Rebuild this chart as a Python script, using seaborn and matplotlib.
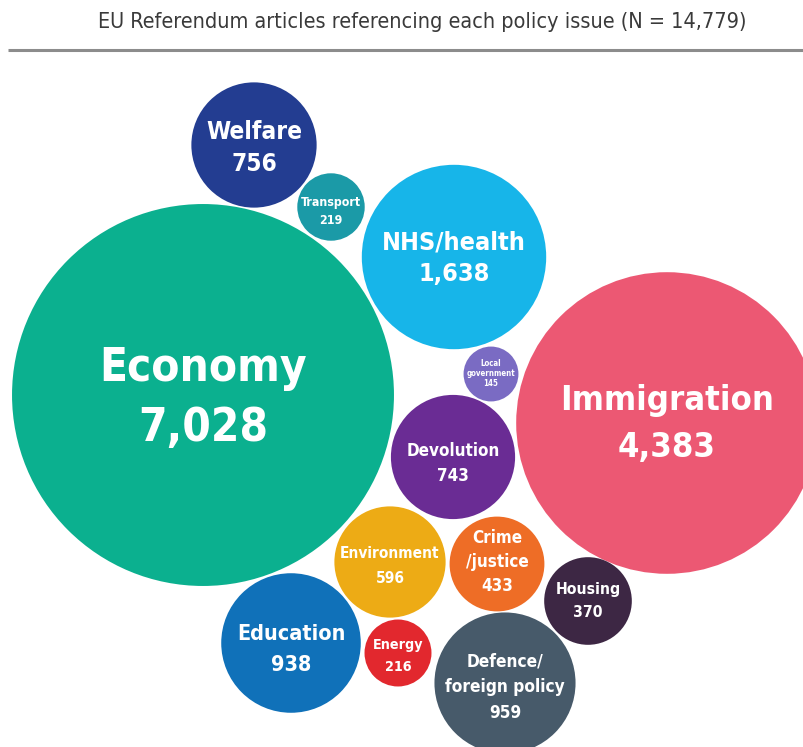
import matplotlib
matplotlib.use("Agg")
import matplotlib.pyplot as plt
from matplotlib.patches import Circle
from matplotlib import font_manager as fm
from matplotlib.textpath import TextPath
import seaborn as sns

# Policy issues and number of EU referendum articles mentioning each
topics = ["Economy", "Immigration", "NHS/health", "Welfare", "Transport",
          "Local government", "Devolution", "Environment", "Crime/justice",
          "Housing", "Education", "Energy", "Defence/foreign policy"]
articles = [7028, 4383, 1638, 756, 219, 145, 743, 596, 433, 370, 938, 216, 959]
label_lines = [["Economy"], ["Immigration"], ["NHS/health"], ["Welfare"],
               ["Transport"], ["Local", "government"], ["Devolution"],
               ["Environment"], ["Crime", "/justice"], ["Housing"],
               ["Education"], ["Energy"], ["Defence/", "foreign policy"]]
title = "EU Referendum articles referencing each policy issue (N = 14,779)"

# Bubble styling and layout (canvas pixel coordinates, y downwards)
palette = sns.color_palette([
    "#0BB08F", "#EC5873", "#17B5E9", "#233D91", "#1B9AA7", "#7A6BC3",
    "#6A2C94", "#EDAB15", "#EE6D26", "#3D2744", "#1071B9", "#E2282E",
    "#475A6A"])
centers = [(203, 395), (667, 423), (454, 257), (254, 145), (331, 207),
           (491, 374), (453, 457), (390, 562), (497, 564), (588, 601),
           (291, 643), (398, 653), (505, 683)]
label_width = [203, 208, 140, 94, 60, 48, 91, 98, 62, 63, 105, 49, 120]
line_gap = [60, 47, 32, 32, 18, 10, 25, 25, 24, 23, 31, 22, 26]
text_dy = [0, -2, -1, 1, 4, -1, 5, 3, -3, -1, 5, 2, 3]
radius_scale = 2.278  # pixels per sqrt(article)


def narrow_font(bold):
    """Find an installed narrow/condensed face, else plain DejaVu Sans."""
    best = None
    for f in fm.fontManager.ttflist:
        st = f.stretch
        narrow = ("Narrow" in f.name or "Condensed" in f.name or "Cond" in f.fname
                  or (isinstance(st, str) and "condensed" in st)
                  or (isinstance(st, int) and st < 500))
        if not narrow:
            continue
        w = f.weight if isinstance(f.weight, int) else (
            700 if "bold" in str(f.weight).lower() else 400)
        if "Italic" in f.fname or f.style != "normal":
            continue
        score = abs(w - (700 if bold else 400))
        if best is None or score < best[0]:
            best = (score, f.fname)
    if best is not None:
        return fm.FontProperties(fname=best[1])
    return fm.FontProperties(family="DejaVu Sans",
                             weight="bold" if bold else "normal")


def fit_size(lines, prop, width_px):
    """Point size at which the widest line spans width_px."""
    w = max(TextPath((0, 0), s, size=1, prop=prop).get_extents().width
            for s in lines)
    return width_px * 72 / 100 / w


sns.set_theme(style="white")
label_prop = narrow_font(True)
title_prop = narrow_font(False)

W, H = 804, 747
fig = plt.figure(figsize=(W / 100, H / 100), dpi=100)
ax = fig.add_axes([0, 0, 1, 1])
ax.set_xlim(0, W)
ax.set_ylim(H, 0)
ax.axis("off")

tp = title_prop.copy()
tp.set_size(min(fit_size([title], title_prop, 645), 15.5))
ax.text(422, 22, title, ha="center", va="center", fontproperties=tp,
        color="#3a3a3a")
ax.plot([8, W], [50, 50], color="#8c8c8c", lw=2.2, solid_capstyle="butt")

for i, (name, n) in enumerate(zip(topics, articles)):
    cx, cy = centers[i]
    r = radius_scale * n ** 0.5
    ax.add_patch(Circle((cx, cy), r, facecolor=palette[i], edgecolor="none"))
    lines = label_lines[i] + [f"{n:,}"]
    lp = label_prop.copy()
    size = fit_size(lines, label_prop, label_width[i])
    lp.set_size(size)
    cap = 0.36 * size * 100 / 72
    k = len(lines)
    for j, line in enumerate(lines):
        yc = cy + text_dy[i] + (j - (k - 1) / 2) * line_gap[i]
        ax.text(cx, yc + cap, line, ha="center", va="baseline",
                fontproperties=lp, color="white")

fig.savefig("out.png", dpi=100, facecolor="white")
